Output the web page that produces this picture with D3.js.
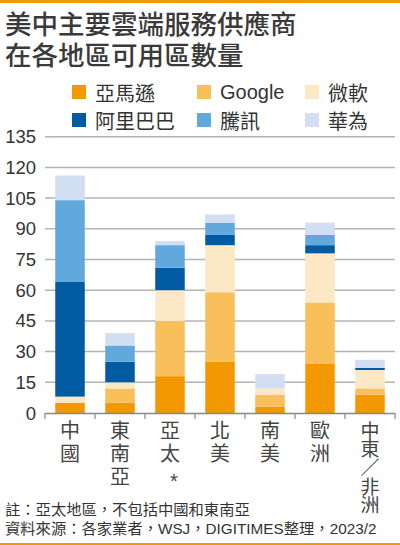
<!DOCTYPE html>
<html>
<head>
<meta charset="utf-8">
<script src="https://cdn.jsdelivr.net/npm/d3@7"></script>
<style>
  html, body { margin: 0; padding: 0; background: #fff; }
  #chart { position: relative; width: 400px; height: 545px; }
  svg { display: block; }
  text { font-family: "Noto Sans CJK TC", "Liberation Sans", sans-serif; }
  .vlabel { writing-mode: vertical-rl; text-orientation: upright; }
  .txt { position: absolute; left: 5px; margin: 0; white-space: nowrap;
         font-family: "Liberation Sans", "Noto Sans CJK TC", sans-serif; }
  #title { top: 10px; font-size: 26.5px; line-height: 31px; font-weight: 500; color: #3a3a3a; }
  #notes { top: 501px; font-size: 15.3px; line-height: 18.5px; color: #333; }
</style>
</head>
<body>
<div id="chart"></div>
<script>
// 資料
const regions = ["中國", "東南亞", "亞太", "北美", "南美", "歐洲", "中東非洲"];
const regionLabels = ["中國", "東南亞", "亞太", "北美", "南美", "歐洲", "中東／非洲"];
const providers = ["亞馬遜", "Google", "微軟", "阿里巴巴", "騰訊", "華為"];
const amazon  = [5, 5, 18, 25, 3, 24, 9];
const google  = [0, 7, 27, 34, 6, 30, 3];
const microsoft = [3, 3, 15, 23, 3, 24, 9];
const alibaba = [56, 10, 11, 5, 0, 4, 1];
const tencent = [40, 8, 11, 6, 0, 5, 0];
const huawei  = [12, 6, 2, 4, 7, 6, 4];
const yTicks = [0, 15, 30, 45, 60, 75, 90, 105, 120, 135];
const colors = ["#f39800", "#f9bf5a", "#fde8c5", "#005ba2", "#61a8dd", "#d2def1"];
const titleLines = ["美中主要雲端服務供應商", "在各地區可用區數量"];
const noteLines = ["註：亞太地區，不包括中國和東南亞", "資料來源：各家業者，WSJ，DIGITIMES整理，2023/2"];

const W = 400, H = 545;
const chart = d3.select("#chart");
const svg = chart.append("svg")
    .attr("width", W).attr("height", H);

// 上下的橘色線
svg.append("rect").attr("x", 0).attr("y", 0).attr("width", W).attr("height", 3).attr("fill", "#f39800");
svg.append("rect").attr("x", 0).attr("y", 543).attr("width", W).attr("height", 2).attr("fill", "#f39800");

// 標題（兩行放在同一個區塊）
chart.append("div").attr("id", "title").attr("class", "txt")
    .html(titleLines.join("<br>"));

// 圖例
const legendX = [72, 197, 305];
const legendY = [92, 120];
providers.forEach(function(p, i) {
    const col = i % 3, row = Math.floor(i / 3);
    svg.append("rect")
        .attr("x", legendX[col]).attr("y", legendY[row] - 7)
        .attr("width", 14).attr("height", 14)
        .attr("fill", colors[i]);
    svg.append("text")
        .attr("x", legendX[col] + 23).attr("y", legendY[row])
        .attr("dominant-baseline", "central")
        .attr("font-size", 20).attr("fill", "#333")
        .style("font-family", p === "Google" ? "'Liberation Sans', sans-serif" : null)
        .text(p);
});

// スケール
const x = d3.scaleBand().domain(regions).range([45, 395]).paddingInner(0.41).paddingOuter(0.205);
const y = d3.scaleLinear().domain([0, 135]).range([413, 136.7]);

// 格線
svg.append("g").selectAll("line")
    .data(yTicks.filter(d => d > 0))
    .enter().append("line")
    .attr("x1", 45).attr("x2", 395)
    .attr("y1", d => y(d)).attr("y2", d => y(d))
    .attr("stroke", "#b4b4b4").attr("stroke-width", 1.5);

// Y軸標籤
svg.append("g").selectAll("text")
    .data(yTicks)
    .enter().append("text")
    .attr("x", 36).attr("y", d => y(d))
    .attr("text-anchor", "end").attr("dominant-baseline", "central")
    .attr("font-size", 18.5).attr("fill", "#333")
    .style("font-family", "'Liberation Sans', sans-serif")
    .text(d => d);

// 堆疊資料
const table = regions.map(function(r, i) {
    return { region: r, "亞馬遜": amazon[i], "Google": google[i], "微軟": microsoft[i],
             "阿里巴巴": alibaba[i], "騰訊": tencent[i], "華為": huawei[i] };
});
const series = d3.stack().keys(providers)(table);

svg.append("g").selectAll("g")
    .data(series)
    .enter().append("g")
    .attr("fill", (d, i) => colors[i])
    .selectAll("rect")
    .data(d => d)
    .enter().append("rect")
    .attr("x", d => x(d.data.region))
    .attr("width", x.bandwidth())
    .attr("y", d => y(d[1]))
    .attr("height", d => y(d[0]) - y(d[1]));

// X軸
const axisG = svg.append("g");
axisG.append("line")
    .attr("x1", 45).attr("x2", 395).attr("y1", 413.5).attr("y2", 413.5)
    .attr("stroke", "#888").attr("stroke-width", 1.5);
const step = x.step();
axisG.selectAll("line.tick")
    .data(d3.range(regions.length + 1))
    .enter().append("line")
    .attr("class", "tick")
    .attr("x1", i => 45 + i * step).attr("x2", i => 45 + i * step)
    .attr("y1", 413).attr("y2", 419)
    .attr("stroke", "#888").attr("stroke-width", 1.2);

// X軸標籤（直書）
regions.forEach(function(r, i) {
    const cx = x(r) + x.bandwidth() / 2;
    const label = regionLabels[i];
    const long = label.length > 3;
    svg.append("text")
        .attr("class", "vlabel")
        .attr("x", cx).attr("y", long ? 421 : 420)
        .attr("font-size", long ? 19 : 20)
        .attr("letter-spacing", long ? -0.4 : 3.3)
        .attr("fill", "#444")
        .text(label);
});
// 亞太的星號
svg.append("text")
    .attr("x", x("亞太") + x.bandwidth() / 2 + 4).attr("y", 488)
    .attr("text-anchor", "middle")
    .attr("font-size", 20).attr("fill", "#444")
    .style("font-family", "'Liberation Sans', sans-serif")
    .text("*");

// 註解（兩行放在同一個區塊）
chart.append("div").attr("id", "notes").attr("class", "txt")
    .html(noteLines.join("<br>"));
</script>
</body>
</html>
